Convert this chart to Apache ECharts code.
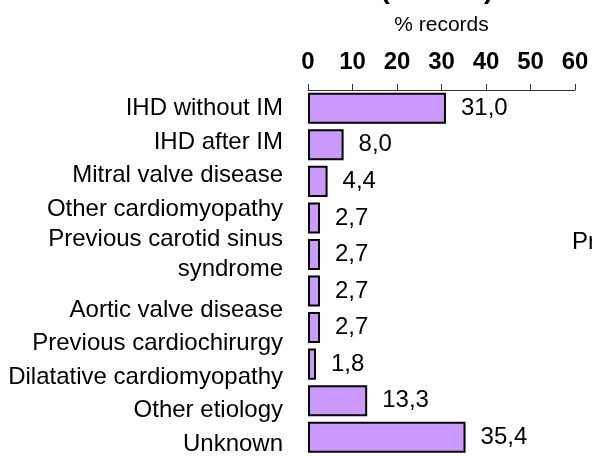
<!DOCTYPE html>
<html>
<head>
<meta charset="utf-8">
<script src="https://cdn.jsdelivr.net/npm/echarts@6/dist/echarts.min.js"></script>
<style>
    html, body { margin: 0; padding: 0; background: #fff; }
    #chart { width: 592px; height: 456px; }
</style>
</head>
<body>
<div id="chart"></div>
<script>
// etiology categories, top to bottom
const categories = [
    'IHD without IM',
    'IHD after IM',
    'Mitral valve disease',
    'Other cardiomyopathy',
    'Previous carotid sinus\nsyndrome',
    'Aortic valve disease',
    'Previous cardiochirurgy',
    'Dilatative cardiomyopathy',
    'Other etiology',
    'Unknown'
]
const records = [31.0, 8.0, 4.4, 2.7, 2.7, 2.7, 2.7, 1.8, 13.3, 35.4]
const axisTicks = [0, 10, 20, 30, 40, 50, 60]

const font = 'Liberation Sans, Arial, sans-serif'

const gridTop = 90
const gridHeight = 368
// the labels sit in one text block with even line spacing, not exactly on the bars
const lineStep = 33.8
const firstLine = 108.5

let lineNo = 0
const yData = categories.map((c, i) => {
    const n = c.split('\n').length
    const center = firstLine + lineStep * (lineNo + (n - 1) / 2)
    lineNo += n
    const barCenter = gridTop + gridHeight / categories.length * (i + 0.5)
    const d = center - barCenter
    if (n > 1) return { value: c, textStyle: { lineHeight: 30 } }
    if (Math.abs(d) < 1) return c
    // shift a one-line label by d: align its line box to the tick, line height 2|d|
    return {
        value: c,
        textStyle: {
            verticalAlign: d > 0 ? 'top' : 'bottom',
            lineHeight: 2 * Math.abs(d)
        }
    }
})

const chart = echarts.init(document.getElementById('chart'))
chart.setOption({
    animation: false,
    textStyle: { fontFamily: font },
    graphic: [
        {
            // title, mostly cut off above the picture
            type: 'text',
            style: {
                text: '(n = 113)',
                x: 437, y: 4,
                align: 'center',
                verticalAlign: 'bottom',
                font: 'bold 28px ' + font,
                fill: '#000'
            }
        },
        {
            // label of the neighbouring chart, cut at the right edge
            type: 'text',
            style: {
                text: 'Previous',
                x: 572, y: 242,
                verticalAlign: 'middle',
                font: '24px ' + font,
                fill: '#000'
            }
        }
    ],
    grid: {
        left: 308,
        top: gridTop,
        width: 267,
        height: gridHeight
    },
    xAxis: {
        type: 'value',
        position: 'top',
        min: axisTicks[0],
        max: axisTicks[axisTicks.length - 1],
        interval: 10,
        name: '% records',
        nameLocation: 'middle',
        nameGap: 54,
        nameTextStyle: { fontSize: 21, color: '#000', fontFamily: font },
        axisLine: { show: true, lineStyle: { color: '#333', width: 1 } },
        axisTick: { show: true, length: 6, lineStyle: { color: '#333' } },
        axisLabel: {
            margin: 16,
            fontSize: 24,
            fontWeight: 'bold',
            color: '#000',
            fontFamily: font
        },
        splitLine: { show: false }
    },
    yAxis: {
        type: 'category',
        inverse: true,
        data: yData,
        axisLine: { show: false },
        axisTick: { show: false },
        axisLabel: {
            interval: 0,
            margin: 25,
            fontSize: 24,
            lineHeight: 34,
            color: '#000',
            fontFamily: font
        }
    },
    series: [{
        type: 'bar',
        data: records,
        barWidth: '85%',
        itemStyle: {
            color: '#cc99ff',
            borderColor: '#000',
            borderWidth: 2
        },
        label: {
            show: true,
            position: 'right',
            distance: 15,
            fontSize: 24,
            color: '#000',
            fontFamily: font,
            formatter: p => p.value.toFixed(1).replace('.', ',')
        }
    }]
})
</script>
</body>
</html>
